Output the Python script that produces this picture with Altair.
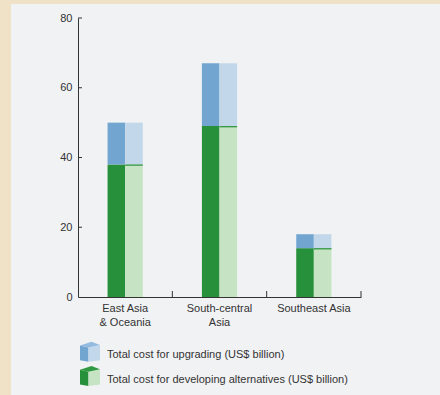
import altair as alt
import pandas as pd

# ---- data ----
regions = ["East Asia & Oceania", "South-central Asia", "Southeast Asia"]
region_labels = [["East Asia", "& Oceania"], ["South-central", "Asia"], ["Southeast Asia"]]
alternatives = [38, 49, 14]   # Total cost for developing alternatives (US$ billion)
upgrading = [12, 18, 4]       # Total cost for upgrading (US$ billion)
y_ticks = [0, 20, 40, 60, 80]
legend_labels = ["Total cost for upgrading (US$ billion)",
                 "Total cost for developing alternatives (US$ billion)"]

df = pd.DataFrame({
    "region": regions,
    "green": alternatives,
    "total": [a + u for a, u in zip(alternatives, upgrading)],
})

FONT = "Liberation Sans"
DG, LG, MG = "#27903a", "#c6e4c3", "#2f9a42"
DB, LB, MB = "#72a6d1", "#c3d7ea", "#93bbe0"
AX = "#333333"
W, H = 283, 279
FS = 11

label_expr = " : ".join(
    f"datum.value == '{r}' ? {lab!r}" for r, lab in zip(regions, region_labels)
) + " : datum.value"

xscale = alt.Scale(domain=regions, paddingInner=0, paddingOuter=0)
yscale = alt.Scale(domain=[0, 80], nice=False)

x_enc = alt.X("region:N", sort=regions, scale=xscale, title=None,
              axis=alt.Axis(labelExpr=label_expr, labelAngle=0, tickSize=0,
                            labelPadding=5, labelFont=FONT, labelFontSize=FS,
                            labelColor=AX, labelLineHeight=14, domainColor=AX,
                            labelBaseline="top", zindex=1))

base = alt.Chart(df)

# background panel
bg = alt.Chart(pd.DataFrame({"a": [0]})).mark_rect(color="#f1f2f4").encode(
    x=alt.value(-67), x2=alt.value(440 - 78), y=alt.value(-14), y2=alt.value(395 - 18))

green_l = base.mark_bar(width=17.6, xOffset=-8.8, color=DG).encode(
    x=x_enc,
    y=alt.Y("green:Q", scale=yscale, title=None,
            axis=alt.Axis(values=y_ticks, tickSize=0, labelPadding=6, labelFont=FONT,
                          labelFontSize=FS, labelColor=AX, domainColor=AX, grid=False,
                          zindex=1)))
green_r = base.mark_bar(width=17.6, xOffset=8.8, color=LG).encode(
    x=alt.X("region:N", sort=regions, scale=xscale), y=alt.Y("green:Q", scale=yscale))
green_edge = base.transform_calculate(gl="datum.green - 0.35").mark_bar(
    width=17.6, xOffset=8.8, color=DG).encode(
    x=alt.X("region:N", sort=regions, scale=xscale),
    y=alt.Y("gl:Q", scale=yscale), y2="green:Q")
blue_l = base.mark_bar(width=17.6, xOffset=-8.8, color=DB).encode(
    x=alt.X("region:N", sort=regions, scale=xscale),
    y=alt.Y("green:Q", scale=yscale), y2="total:Q")
blue_r = base.mark_bar(width=17.6, xOffset=8.8, color=LB).encode(
    x=alt.X("region:N", sort=regions, scale=xscale),
    y=alt.Y("green:Q", scale=yscale), y2="total:Q")
# inward ticks
yt = alt.Chart(pd.DataFrame({"v": y_ticks[1:]})).mark_rule(color=AX).encode(
    y=alt.Y("v:Q", scale=yscale), x=alt.value(0), x2=alt.value(4))
xt = alt.Chart(pd.DataFrame({"r": regions[1:]})).mark_rule(color=AX).encode(
    x=alt.X("r:N", sort=regions, scale=xscale, bandPosition=0),
    y=alt.value(H - 6), y2=alt.value(H))
xt_end = alt.Chart(pd.DataFrame({"r": regions[-1:]})).mark_rule(color=AX).encode(
    x=alt.X("r:N", sort=regions, scale=xscale, bandPosition=1),
    y=alt.value(H - 6), y2=alt.value(H))

# legend (cube icons)
left_face = "M -1 -0.62 L -0.15 -0.42 L -0.15 1 L -1 0.85 Z"
right_face = "M -0.15 -0.42 L 1 -0.68 L 1 0.85 L -0.15 1 Z"
top_face = "M -1 -0.62 L 0.15 -1 L 1 -0.68 L -0.15 -0.42 Z"
one = pd.DataFrame({"a": [0]})
legend_layers = []
for i, (lab, cols) in enumerate(zip(legend_labels, [(DB, LB, MB), (DG, LG, MG)])):
    cy = 333.7 + i * 24.3
    for path, col in zip([left_face, right_face, top_face], cols):
        legend_layers.append(
            alt.Chart(one).mark_point(shape=path, filled=True, fill=col, opacity=1,
                                      size=400, strokeWidth=0)
            .encode(x=alt.value(12), y=alt.value(cy)))
    legend_layers.append(
        alt.Chart(pd.DataFrame({"t": [lab]})).mark_text(
            align="left", baseline="middle", font=FONT, fontSize=FS, color=AX)
        .encode(text="t:N", x=alt.value(29), y=alt.value(cy + 3.5)))

chart = alt.layer(bg, green_l, green_r, blue_l, blue_r, green_edge, yt, xt, xt_end,
                  *legend_layers).properties(
    width=W, height=H,
    autosize=alt.AutoSizeParams(type="none"),
    padding={"left": 78, "top": 18, "right": 79, "bottom": 98},
    background="#f0e2c6",
).configure_view(stroke=None).configure_axis(domainWidth=1)

chart.save("out.html", embed_options={"renderer": "svg", "actions": False})
